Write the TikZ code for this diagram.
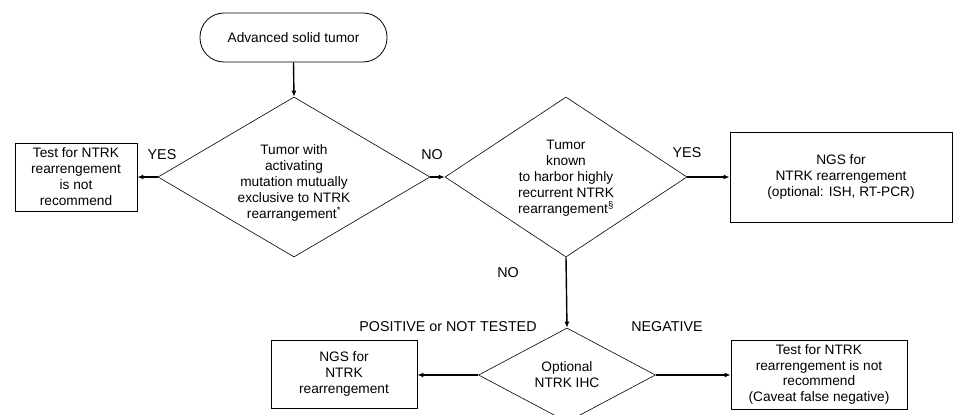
\documentclass[tikz,border=0pt]{standalone}
\usepackage{fontspec}
\setmainfont{Liberation Sans}
\usetikzlibrary{shapes.geometric,arrows.meta}
\begin{document}
\begin{tikzpicture}[x=1pt,y=-1pt,
  every node/.style={font=\fontsize{13.7}{16}\selectfont},
  box/.style={draw, line width=0.8pt, inner sep=0pt, align=center},
  dia/.style={draw, diamond, line width=0.6pt, inner sep=0pt},
  txt/.style={align=center, inner sep=0pt},
  lbl/.style={inner sep=0pt, font=\fontsize{14.3}{16}\selectfont},
  arr/.style={-{Latex[length=6pt,width=5pt]}, line width=1.4pt}]
\useasboundingbox[fill=white] (0,0) rectangle (970,415);

% start
\node[box, rounded corners=24pt, minimum width=187pt, minimum height=49pt] (start) at (293.5,37.5) {Advanced solid tumor};

% diamonds
\node[dia, minimum width=272pt, minimum height=160pt] (d1) at (294,177) {};
\node[txt] (d1t) at (294,183) {Tumor with\\activating\\mutation mutually\\exclusive to NTRK\\rearrangement\textsuperscript{*}};

\node[dia, minimum width=242pt, minimum height=160pt] (d2) at (566,177) {};
\node[txt] (d2t) at (566,178) {Tumor\\known\\to harbor highly\\recurrent NTRK\\rearrangement\textsuperscript{§}};

\node[dia, minimum width=177pt, minimum height=94pt] (d3) at (567,375) {};
\node[txt] (d3t) at (567,375) {Optional\\NTRK IHC};

% boxes
\node[box, minimum width=122pt, minimum height=68pt] (bl) at (76,177) {Test for NTRK\\rearrengement\\is not\\recommend};
\node[box, minimum width=222pt, minimum height=90pt] (br) at (841,177) {NGS for\\NTRK rearrengement\\(optional: ISH, RT-PCR)};
\node[box, minimum width=146pt, minimum height=68pt] (ngs) at (344,374) {NGS for\\NTRK\\rearrengement};
\node[box, minimum width=176pt, minimum height=69pt, font=\fontsize{13.7}{15.5}\selectfont] (neg) at (819,374.5) {Test for NTRK\\rearrengement is not\\recommend\\(Caveat false negative)};

% labels
\node[lbl] (yes1) at (162,155) {YES};
\node[lbl] (no1) at (432,155) {NO};
\node[lbl] (yes2) at (687,153) {YES};
\node[lbl] (no2) at (508,273) {NO};
\node[lbl] (pos) at (448,327) {POSITIVE or NOT TESTED};
\node[lbl] (negl) at (667,327) {NEGATIVE};

% connectors
\draw[arr] (start.south) -- (d1.north);
\draw[arr] (d1.west) -- (bl.east);
\draw[arr] (d1.east) -- (d2.west);
\draw[arr] (d2.east) -- (br.west);
\draw[arr] (d2.south) -- (d3.north);
\draw[arr] (d3.west) -- (ngs.east |- d3.west);
\draw[arr] (d3.east) -- (neg.west |- d3.east);
\end{tikzpicture}
\end{document}
